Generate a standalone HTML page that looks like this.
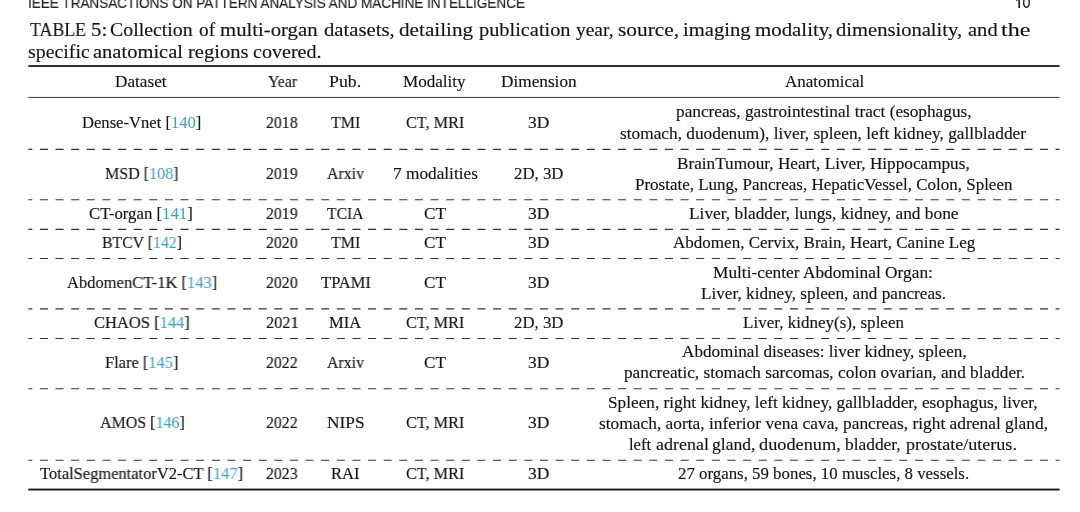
<!DOCTYPE html>
<html><head><meta charset="utf-8"><style>
html,body{margin:0;padding:0;background:#fff;}
body{width:1080px;height:512px;position:relative;overflow:hidden;}
.t{position:absolute;white-space:pre;line-height:1;transform-origin:0 0;color:#141414;will-change:transform;-webkit-text-stroke:0.15px currentColor;}
.t.t{font-family:"Liberation Serif",serif;font-size:16.6px;}
.t.cap{font-family:"Liberation Serif",serif;font-size:19.3px;}
.t.h{font-family:"Liberation Sans",sans-serif;font-size:14.5px;color:#222;}
.c{color:#3a9ec8;-webkit-text-stroke:0;}
</style></head><body>
<svg width="1080" height="512" style="position:absolute;left:0;top:0">
<rect x="28.3" y="65" width="1031.30" height="2" fill="#303030"/>
<rect x="28.3" y="96.9" width="1031.30" height="1.1" fill="#4a4a4a"/>
<rect x="28.3" y="488.6" width="1031.30" height="1.9" fill="#151515"/>
<line x1="28.3" y1="149.4" x2="1059.6" y2="149.4" stroke="#333" stroke-width="1.1" stroke-dasharray="8 7.626" stroke-dashoffset="4"/>
<line x1="28.3" y1="199.8" x2="1059.6" y2="199.8" stroke="#333" stroke-width="1.1" stroke-dasharray="8 7.626" stroke-dashoffset="4"/>
<line x1="28.3" y1="229.4" x2="1059.6" y2="229.4" stroke="#333" stroke-width="1.1" stroke-dasharray="8 7.626" stroke-dashoffset="4"/>
<line x1="28.3" y1="258.5" x2="1059.6" y2="258.5" stroke="#333" stroke-width="1.1" stroke-dasharray="8 7.626" stroke-dashoffset="4"/>
<line x1="28.3" y1="308.9" x2="1059.6" y2="308.9" stroke="#333" stroke-width="1.1" stroke-dasharray="8 7.626" stroke-dashoffset="4"/>
<line x1="28.3" y1="338.5" x2="1059.6" y2="338.5" stroke="#333" stroke-width="1.1" stroke-dasharray="8 7.626" stroke-dashoffset="4"/>
<line x1="28.3" y1="388.8" x2="1059.6" y2="388.8" stroke="#333" stroke-width="1.1" stroke-dasharray="8 7.626" stroke-dashoffset="4"/>
<line x1="28.3" y1="460.3" x2="1059.6" y2="460.3" stroke="#333" stroke-width="1.1" stroke-dasharray="8 7.626" stroke-dashoffset="4"/>
<path d="M1018.35,-3 L1019.95,-3 L1019.95,7.9 L1018.35,7.9 Z M1018.6,-2.9 L1016.1,0.4 L1016.3,1.3 L1019,-0.6 Z" fill="#1a1a1a"/>
<ellipse cx="1026.45" cy="2.6" rx="2.8" ry="4.65" fill="none" stroke="#1a1a1a" stroke-width="1.35"/>
</svg>
<div class="t h" style="left:28.37px;top:-4.20px;transform:scaleX(0.9335)">IEEE TRANSACTIONS ON PATTERN ANALYSIS AND MACHINE INTELLIGENCE</div>
<div class="t cap" style="left:30.00px;top:19.80px;transform:scaleX(0.9250)">TABLE</div>
<div class="t cap" style="left:90.92px;top:19.80px;transform:scaleX(1.0769)">5:</div>
<div class="t cap" style="left:110.22px;top:19.80px;transform:scaleX(1.0285)">Collection</div>
<div class="t cap" style="left:199.00px;top:19.80px;transform:scaleX(1.0000)">of</div>
<div class="t cap" style="left:220.17px;top:19.80px;transform:scaleX(1.0758)">multi-organ</div>
<div class="t cap" style="left:323.93px;top:19.80px;transform:scaleX(1.0742)">datasets,</div>
<div class="t cap" style="left:398.90px;top:19.80px;transform:scaleX(1.0985)">detailing</div>
<div class="t cap" style="left:478.75px;top:19.80px;transform:scaleX(1.0552)">publication</div>
<div class="t cap" style="left:576.25px;top:19.80px;transform:scaleX(1.0069)">year,</div>
<div class="t cap" style="left:617.64px;top:19.80px;transform:scaleX(1.1085)">source,</div>
<div class="t cap" style="left:682.68px;top:19.80px;transform:scaleX(1.0685)">imaging</div>
<div class="t cap" style="left:755.17px;top:19.80px;transform:scaleX(1.0821)">modality,</div>
<div class="t cap" style="left:836.43px;top:19.80px;transform:scaleX(1.0668)">dimensionality,</div>
<div class="t cap" style="left:967.69px;top:19.80px;transform:scaleX(1.0648)">and</div>
<div class="t cap" style="left:1000.75px;top:19.80px;transform:scaleX(1.2500)">the</div>
<div class="t cap" style="left:27.87px;top:42.40px;transform:scaleX(1.0310)">specific</div>
<div class="t cap" style="left:93.04px;top:42.40px;transform:scaleX(1.0639)">anatomical</div>
<div class="t cap" style="left:188.43px;top:42.40px;transform:scaleX(1.0655)">regions</div>
<div class="t cap" style="left:252.96px;top:42.40px;transform:scaleX(1.0422)">covered.</div>
<div class="t t" style="left:115.21px;top:74.20px;transform:scaleX(1.0357)">Dataset</div>
<div class="t t" style="left:267.50px;top:74.20px;transform:scaleX(0.9516)">Year</div>
<div class="t t" style="left:329.43px;top:74.20px;transform:scaleX(1.0714)">Pub.</div>
<div class="t t" style="left:403.47px;top:74.20px;transform:scaleX(1.0292)">Modality</div>
<div class="t t" style="left:500.96px;top:74.20px;transform:scaleX(1.0387)">Dimension</div>
<div class="t t" style="left:784.80px;top:74.20px;transform:scaleX(1.0250)">Anatomical</div>
<div class="t t" style="left:82.00px;top:115.25px;transform:scaleX(1.0000)">Dense-Vnet [<span class="c">140</span>]</div>
<div class="t t" style="left:266.05px;top:115.25px;transform:scaleX(0.9531)">2018</div>
<div class="t t" style="left:331.25px;top:115.25px;transform:scaleX(0.9583)">TMI</div>
<div class="t t" style="left:406.02px;top:115.25px;transform:scaleX(0.9784)">CT, MRI</div>
<div class="t t" style="left:527.70px;top:115.25px;transform:scaleX(1.0526)">3D</div>
<div class="t t" style="left:676.00px;top:104.30px;transform:scaleX(1.0396)">pancreas, gastrointestinal tract (esophagus,</div>
<div class="t t" style="left:619.71px;top:125.70px;transform:scaleX(1.0424)">stomach, duodenum), liver, spleen, left kidney, gallbladder</div>
<div class="t t" style="left:105.03px;top:165.75px;transform:scaleX(0.9662)">MSD [<span class="c">108</span>]</div>
<div class="t t" style="left:266.05px;top:165.75px;transform:scaleX(0.9531)">2019</div>
<div class="t t" style="left:327.00px;top:165.75px;transform:scaleX(0.9551)">Arxiv</div>
<div class="t t" style="left:392.71px;top:165.75px;transform:scaleX(1.0406)">7 modalities</div>
<div class="t t" style="left:513.99px;top:165.75px;transform:scaleX(1.0106)">2D, 3D</div>
<div class="t t" style="left:677.21px;top:155.50px;transform:scaleX(1.0365)">BrainTumour, Heart, Liver, Hippocampus,</div>
<div class="t t" style="left:634.73px;top:177.00px;transform:scaleX(1.0238)">Prostate, Lung, Pancreas, HepaticVessel, Colon, Spleen</div>
<div class="t t" style="left:89.49px;top:205.50px;transform:scaleX(1.0099)">CT-organ [<span class="c">141</span>]</div>
<div class="t t" style="left:266.05px;top:205.50px;transform:scaleX(0.9531)">2019</div>
<div class="t t" style="left:327.00px;top:205.50px;transform:scaleX(0.9423)">TCIA</div>
<div class="t t" style="left:424.46px;top:205.50px;transform:scaleX(1.0375)">CT</div>
<div class="t t" style="left:527.70px;top:205.50px;transform:scaleX(1.0526)">3D</div>
<div class="t t" style="left:688.96px;top:205.50px;transform:scaleX(1.0449)">Liver, bladder, lungs, kidney, and bone</div>
<div class="t t" style="left:101.55px;top:234.60px;transform:scaleX(0.9512)">BTCV [<span class="c">142</span>]</div>
<div class="t t" style="left:266.05px;top:234.60px;transform:scaleX(0.9531)">2020</div>
<div class="t t" style="left:331.25px;top:234.60px;transform:scaleX(0.9583)">TMI</div>
<div class="t t" style="left:424.46px;top:234.60px;transform:scaleX(1.0375)">CT</div>
<div class="t t" style="left:527.70px;top:234.60px;transform:scaleX(1.0526)">3D</div>
<div class="t t" style="left:673.25px;top:234.60px;transform:scaleX(1.0264)">Abdomen, Cervix, Brain, Heart, Canine Leg</div>
<div class="t t" style="left:67.00px;top:274.50px;transform:scaleX(0.9950)">AbdomenCT-1K [<span class="c">143</span>]</div>
<div class="t t" style="left:266.05px;top:274.50px;transform:scaleX(0.9531)">2020</div>
<div class="t t" style="left:321.25px;top:274.50px;transform:scaleX(0.9949)">TPAMI</div>
<div class="t t" style="left:424.46px;top:274.50px;transform:scaleX(1.0375)">CT</div>
<div class="t t" style="left:527.70px;top:274.50px;transform:scaleX(1.0526)">3D</div>
<div class="t t" style="left:713.46px;top:264.50px;transform:scaleX(1.0431)">Multi-center Abdominal Organ:</div>
<div class="t t" style="left:700.97px;top:285.75px;transform:scaleX(1.0340)">Liver, kidney, spleen, and pancreas.</div>
<div class="t t" style="left:93.51px;top:314.50px;transform:scaleX(0.9947)">CHAOS [<span class="c">144</span>]</div>
<div class="t t" style="left:266.02px;top:314.50px;transform:scaleX(0.9839)">2021</div>
<div class="t t" style="left:329.00px;top:314.50px;transform:scaleX(1.0000)">MIA</div>
<div class="t t" style="left:406.02px;top:314.50px;transform:scaleX(0.9784)">CT, MRI</div>
<div class="t t" style="left:513.99px;top:314.50px;transform:scaleX(1.0106)">2D, 3D</div>
<div class="t t" style="left:743.22px;top:314.50px;transform:scaleX(1.0258)">Liver, kidney(s), spleen</div>
<div class="t t" style="left:105.26px;top:354.50px;transform:scaleX(0.9896)">Flare [<span class="c">145</span>]</div>
<div class="t t" style="left:266.05px;top:354.50px;transform:scaleX(0.9531)">2022</div>
<div class="t t" style="left:327.00px;top:354.50px;transform:scaleX(0.9551)">Arxiv</div>
<div class="t t" style="left:424.46px;top:354.50px;transform:scaleX(1.0375)">CT</div>
<div class="t t" style="left:527.70px;top:354.50px;transform:scaleX(1.0526)">3D</div>
<div class="t t" style="left:682.00px;top:344.00px;transform:scaleX(1.0336)">Abdominal diseases: liver kidney, spleen,</div>
<div class="t t" style="left:623.75px;top:364.50px;transform:scaleX(1.0390)">pancreatic, stomach sarcomas, colon ovarian, and bladder.</div>
<div class="t t" style="left:100.00px;top:415.00px;transform:scaleX(0.9626)">AMOS [<span class="c">146</span>]</div>
<div class="t t" style="left:266.05px;top:415.00px;transform:scaleX(0.9531)">2022</div>
<div class="t t" style="left:326.96px;top:415.00px;transform:scaleX(1.0441)">NIPS</div>
<div class="t t" style="left:406.02px;top:415.00px;transform:scaleX(0.9784)">CT, MRI</div>
<div class="t t" style="left:527.70px;top:415.00px;transform:scaleX(1.0526)">3D</div>
<div class="t t" style="left:608.46px;top:395.25px;transform:scaleX(1.0388)">Spleen, right kidney, left kidney, gallbladder, esophagus, liver,</div>
<div class="t t" style="left:598.95px;top:416.00px;transform:scaleX(1.0468)">stomach, aorta, inferior vena cava, pancreas, right adrenal gland,</div>
<div class="t t" style="left:629.10px;top:436.50px;transform:scaleX(1.0000)">left</div>
<div class="t t" style="left:655.52px;top:436.50px;transform:scaleX(1.0830)">adrenal</div>
<div class="t t" style="left:711.84px;top:436.50px;transform:scaleX(1.0590)">gland,</div>
<div class="t t" style="left:758.90px;top:436.50px;transform:scaleX(1.1028)">duodenum,</div>
<div class="t t" style="left:845.30px;top:436.50px;transform:scaleX(1.0462)">bladder,</div>
<div class="t t" style="left:905.60px;top:436.50px;transform:scaleX(1.0891)">prostate/uterus.</div>
<div class="t t" style="left:40.00px;top:466.00px;transform:scaleX(0.9926)">TotalSegmentatorV2-CT [<span class="c">147</span>]</div>
<div class="t t" style="left:266.05px;top:466.00px;transform:scaleX(0.9531)">2023</div>
<div class="t t" style="left:331.00px;top:466.00px;transform:scaleX(1.0000)">RAI</div>
<div class="t t" style="left:406.02px;top:466.00px;transform:scaleX(0.9784)">CT, MRI</div>
<div class="t t" style="left:527.70px;top:466.00px;transform:scaleX(1.0526)">3D</div>
<div class="t t" style="left:677.74px;top:466.00px;transform:scaleX(1.0149)">27 organs, 59 bones, 10 muscles, 8 vessels.</div>
</body></html>
